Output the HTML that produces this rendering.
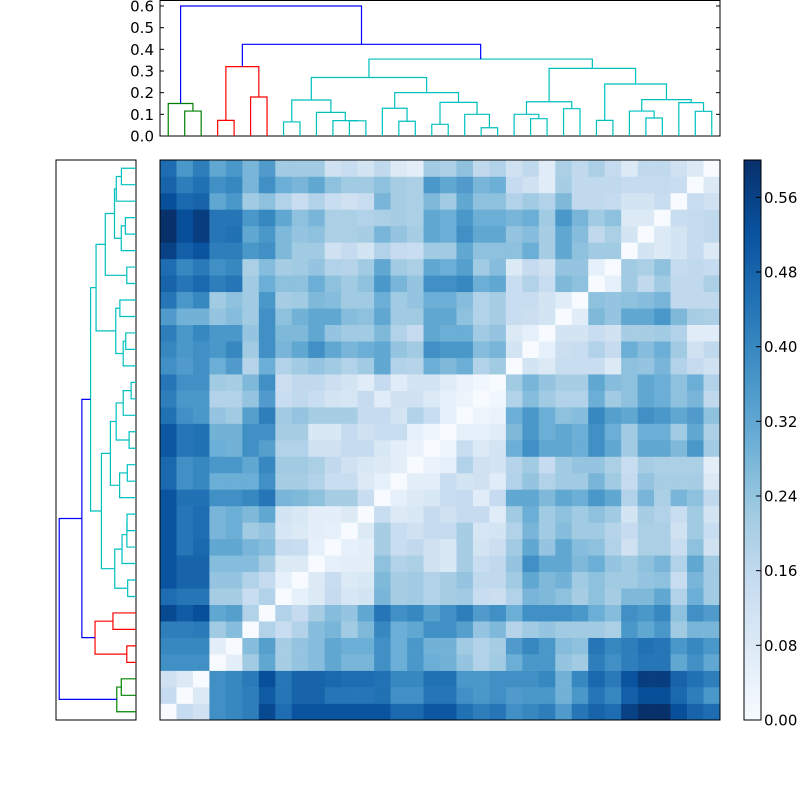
<!DOCTYPE html>
<html><head><meta charset="utf-8">
<style>
html,body{margin:0;padding:0;background:#fff;}
svg text{font-family:"DejaVu Sans","Liberation Sans",sans-serif;font-size:15px;fill:#000;}
</style></head>
<body>
<svg id="chart" width="800" height="800" viewBox="0 0 800 800" xmlns="http://www.w3.org/2000/svg">
<rect x="0" y="0" width="800" height="800" fill="#fff"/>
<g id="heat"></g>
<g id="topden"></g>
<g id="leftden"></g>
<g id="cbar"></g>
</svg>
<script>
// Lower triangle of the distance matrix (hundredths), row k = leaf k (bottom row), cols 0..k-1
const row0=[];
const row1=[15];
const row2=[12,8];
const row3=[38,38,38];
const row4=[40,40,40,6];
const row5=[42,42,43,22,26];
const row6=[54,50,53,32,34,19];
const row7=[46,44,44,21,21,14,19];
const row8=[52,48,48,24,24,19,15,5];
const row9=[52,48,48,26,26,26,21,8,8];
const row10=[52,44,47,32,32,28,26,15,14,5];
const row11=[52,44,46,28,30,22,24,10,8,6,5];
const row12=[52,44,46,28,30,27,32,11,9,6,6,8];
const row13=[52,45,45,38,38,40,44,28,27,25,21,21,14];
const row14=[47,38,40,30,30,30,38,21,21,19,14,14,8,5];
const row15=[47,38,40,36,36,32,40,22,22,20,16,12,9,8,6];
const row16=[51,44,45,30,29,38,34,19,19,12,12,15,15,9,6,4];
const row17=[51,44,45,29,29,38,38,21,21,9,9,15,12,14,14,5,3];
const row18=[45,38,36,24,22,34,42,22,24,21,21,21,15,15,11,19,14,5];
const row19=[42,36,36,19,19,24,35,14,16,14,11,10,15,7,12,12,8,5,3];
const row20=[44,38,38,22,21,27,38,13,16,16,13,11,7,15,7,11,11,7,4,2];
const row21=[38,35,38,30,35,18,30,19,22,24,22,19,22,32,19,18,30,27,30,19,22];
const row22=[40,36,38,36,40,22,38,28,32,38,32,28,30,32,24,22,38,36,36,26,28,11];
const row23=[42,36,40,36,36,24,38,27,27,32,24,22,22,27,19,15,32,30,30,22,24,8,5];
const row24=[35,29,29,24,26,22,38,25,29,32,32,26,25,32,22,22,32,32,25,19,21,14,13,11];
const row25=[44,36,40,22,25,22,36,21,22,27,26,22,22,30,22,24,30,30,26,19,21,14,14,11,7];
const row26=[48,44,47,42,44,22,30,25,25,30,25,22,25,36,28,24,38,38,40,30,32,14,19,14,27,25];
const row27=[46,40,43,38,40,20,26,21,22,24,19,18,22,32,22,20,32,30,34,22,26,8,15,12,24,24,5];
const row28=[56,49,52,42,42,36,38,27,22,22,12,15,11,19,15,14,22,22,32,25,25,25,30,21,32,25,22,22];
const row29=[60,53,57,44,45,32,36,27,24,25,20,20,21,28,24,21,32,30,38,32,32,24,26,21,32,26,16,20,11];
const row30=[60,53,57,44,44,36,40,32,25,28,20,20,19,20,21,20,32,30,36,30,30,28,30,22,36,28,22,25,8,8];
const row31=[53,47,48,32,36,22,25,19,14,19,14,12,14,28,21,20,27,22,32,25,25,19,22,19,27,16,16,15,11,11,14];
const row32=[48,42,45,38,40,28,38,30,28,32,25,22,22,25,21,20,36,32,35,28,30,15,12,7,21,16,16,16,15,15,15,14];
const row33=[46,36,42,32,36,28,35,22,22,22,12,14,11,16,8,6,22,20,25,16,19,12,16,7,20,16,20,15,8,16,16,12,8];
const lowerRows=[row0,row1,row2,row3,row4,row5,row6,row7,row8,row9,row10,row11,row12,row13,row14,row15,row16,row17,row18,row19,row20,row21,row22,row23,row24,row25,row26,row27,row28,row29,row30,row31,row32,row33];

// Dendrogram linkage: internal node ids start at 34
const linkLeft =[1,0,3,5,36,7,11,10,9,39,14,13,16,19,18,46,45,43,22,21,24,53,26,29,28,32,31,58,56,55,51,38,35];
const linkRight=[2,34,4,6,37,8,12,40,41,42,15,44,17,20,47,48,49,50,23,52,25,54,27,30,57,33,59,60,61,62,63,64,65];
const linkHeight=[0.115,0.15,0.072,0.18,0.32,0.065,0.07,0.071,0.109,0.166,0.068,0.128,0.054,0.038,0.1,0.155,0.2,0.27,0.08,0.1,0.126,0.158,0.072,0.083,0.115,0.114,0.154,0.168,0.24,0.312,0.355,0.423,0.6];
const linkColor=['g','g','r','r','r','c','c','c','c','c','c','c','c','c','c','c','c','c','c','c','c','c','c','c','c','c','c','c','c','c','c','b','b'];

const yTicks=[0.0,0.1,0.2,0.3,0.4,0.5,0.6];
const cbarTicks=[0.00,0.08,0.16,0.24,0.32,0.40,0.48,0.56];

const NS='http://www.w3.org/2000/svg';
function mk(tag,attrs,parent){const e=document.createElementNS(NS,tag);for(const k in attrs)e.setAttribute(k,attrs[k]);parent.appendChild(e);return e;}

const N=lowerRows.length;
const M=[];for(let i=0;i<N;i++){M.push(new Array(N).fill(0));}
for(let k=0;k<N;k++){for(let c=0;c<lowerRows[k].length;c++){M[k][c]=lowerRows[k][c]/100;M[c][k]=lowerRows[k][c]/100;}}
let vmax=0;for(let i=0;i<N;i++)for(let j=0;j<N;j++)vmax=Math.max(vmax,M[i][j]);

const blues=['#f7fbff','#deebf7','#c6dbef','#9ecae1','#6baed6','#4292c6','#2171b5','#08519c','#08306b'];
function hex(h){return [parseInt(h.substr(1,2),16),parseInt(h.substr(3,2),16),parseInt(h.substr(5,2),16)];}
function cmap(t){t=Math.max(0,Math.min(1,t));const p=t*(blues.length-1);const i=Math.min(blues.length-2,Math.floor(p));const f=p-i;const a=hex(blues[i]),b=hex(blues[i+1]);
  return 'rgb('+a.map((v,j)=>Math.round(v+(b[j]-v)*f)).join(',')+')';}

// Heatmap
const HX0=160,HY0=160,HS=560,cell=HS/N;
const heat=document.getElementById('heat');
for(let k=0;k<N;k++){for(let c=0;c<N;c++){
  const r=mk('rect',{x:HX0+c*cell,y:HY0+HS-(k+1)*cell,width:cell+0.3,height:cell+0.3,fill:cmap(M[k][c]/vmax)},heat);
  
  
}}
const hf=mk('rect',{x:HX0,y:HY0,width:HS,height:HS,fill:'none',stroke:'#000','stroke-width':1},heat);



// Dendrogram geometry
const colors={g:'#008000',r:'#ff0000',c:'#00bfbf',b:'#0000ff'};
const pos={},ht={};
for(let i=0;i<N;i++){pos[i]=i+0.5;ht[i]=0;}
for(let j=0;j<linkLeft.length;j++){const id=N+j;pos[id]=(pos[linkLeft[j]]+pos[linkRight[j]])/2;ht[id]=linkHeight[j];}

// Top dendrogram
const TX0=160,TY0=136,TS=216.7;
const td=document.getElementById('topden');
const tb=mk('rect',{x:160,y:0.5,width:560,height:135.5,fill:'none',stroke:'#000','stroke-width':1},td);


function tx(p){return TX0+p*cell;} function ty(h){return TY0-h*TS;}
for(let j=0;j<linkLeft.length;j++){
  const a=linkLeft[j],b=linkRight[j],h=linkHeight[j];
  const d='M'+tx(pos[a])+' '+ty(ht[a])+' L'+tx(pos[a])+' '+ty(h)+' L'+tx(pos[b])+' '+ty(h)+' L'+tx(pos[b])+' '+ty(ht[b]);
  const p=mk('path',{d:d,fill:'none',stroke:colors[linkColor[j]],'stroke-width':1.2},td);
  
  
}
yTicks.forEach(v=>{
  const y=ty(v);
  mk('line',{x1:160,y1:y,x2:164,y2:y,stroke:'#000','stroke-width':1},td);
  mk('line',{x1:716,y1:y,x2:720,y2:y,stroke:'#000','stroke-width':1},td);
  const t=mk('text',{x:154,y:y+5.5,'text-anchor':'end'},td);
  t.textContent=v.toFixed(1);
  
  
});

// Left dendrogram
const LX0=136,LS=128;
const ld=document.getElementById('leftden');
const lb=mk('rect',{x:56,y:160,width:80,height:560,fill:'none',stroke:'#000','stroke-width':1},ld);


function lx(h){return LX0-h*LS;} function ly(p){return 720-p*cell;}
for(let j=0;j<linkLeft.length;j++){
  const a=linkLeft[j],b=linkRight[j],h=linkHeight[j];
  const d='M'+lx(ht[a])+' '+ly(pos[a])+' L'+lx(h)+' '+ly(pos[a])+' L'+lx(h)+' '+ly(pos[b])+' L'+lx(ht[b])+' '+ly(pos[b]);
  const p=mk('path',{d:d,fill:'none',stroke:colors[linkColor[j]],'stroke-width':1.2},ld);
  
  
}

// Colorbar
const cb=document.getElementById('cbar');
const CX=744,CW=17,CY0=160,CH=560;
const defs=mk('defs',{},cb);
const grad=mk('linearGradient',{id:'cg',x1:0,y1:1,x2:0,y2:0},defs);
blues.forEach((c,i)=>{mk('stop',{offset:(i/(blues.length-1)),'stop-color':c},grad);});
const cr=mk('rect',{x:CX,y:CY0,width:CW,height:CH,fill:'url(#cg)',stroke:'#000','stroke-width':1},cb);


cbarTicks.forEach(v=>{
  const y=CY0+CH-v/vmax*CH;
  mk('line',{x1:CX+CW-5,y1:y,x2:CX+CW,y2:y,stroke:'#000','stroke-width':1},cb);
  const t=mk('text',{x:CX+CW+3,y:y+5.5},cb);
  t.textContent=v.toFixed(2);
  
  
});
</script>
</body></html>
